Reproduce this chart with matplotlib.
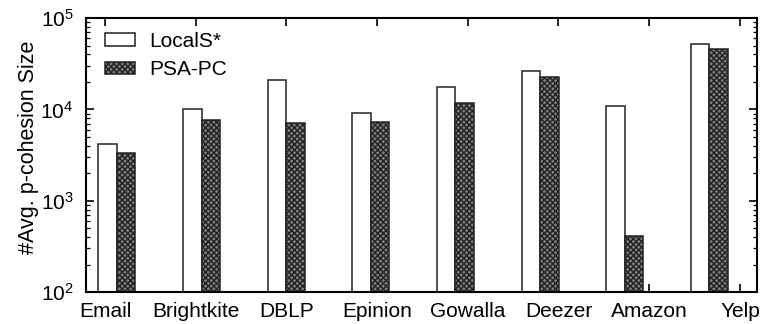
import numpy as np
import matplotlib
matplotlib.use("Agg")
import matplotlib.pyplot as plt
from matplotlib.ticker import LogLocator, NullFormatter

plt.rcParams['font.family'] = ['Liberation Sans', 'DejaVu Sans']
plt.rcParams['hatch.linewidth'] = 1.0

# data
datasets = ['Email', 'Brightkite', 'DBLP', 'Epinion', 'Gowalla', 'Deezer', 'Amazon', 'Yelp']
locals_star = [4230, 10190, 20800, 9200, 17700, 26200, 10790, 52200]
psa_pc = [3365, 7620, 7150, 7330, 11650, 22850, 409, 45600]

fig = plt.figure(figsize=(7.61, 3.24), dpi=100)
ax = fig.add_axes([0.113, 0.0988, 0.8817, 0.8452])

# category ticks and bar groups sit on slightly different grids in the original
tick_pos = np.arange(len(datasets))
group_pos = 0.132 + 0.933 * np.arange(len(datasets))
w = 0.204

ax.bar(group_pos - w / 2, locals_star, w, bottom=1e-3, color='white',
       edgecolor='#222222', linewidth=1.1, label='LocalS*', zorder=2)
ax.bar(group_pos + w / 2, psa_pc, w, bottom=1e-3, color='#808080',
       edgecolor='#222222', linewidth=1.1, hatch='xxxxxx', label='PSA-PC', zorder=2)

ax.set_yscale('log')
ax.set_ylim(1e2, 1e5)
ax.set_xlim(-0.209, 7.188)
ax.set_xticks(tick_pos)
ax.set_xticklabels(datasets)
ax.yaxis.set_major_locator(LogLocator(base=10, numticks=10))
ax.yaxis.set_minor_locator(LogLocator(base=10, subs=np.arange(2, 10), numticks=20))
ax.yaxis.set_minor_formatter(NullFormatter())

ax.tick_params(axis='both', which='major', direction='in', length=6, width=1.2,
               labelsize=15, top=True, right=True)
ax.tick_params(axis='y', which='minor', direction='in', length=3, width=0.9, right=True)
ax.tick_params(axis='x', which='minor', bottom=False, top=False)
ax.tick_params(axis='x', which='major', pad=7)
ax.tick_params(axis='y', which='major', pad=9)
ax.set_axisbelow(True)
for s in ax.spines.values():
    s.set_linewidth(1.5)
    s.set_zorder(3)

ax.set_ylabel('#Avg. p-cohesion Size', fontsize=15.5)
ax.yaxis.set_label_coords(-0.07, 0.53)

ax.legend(loc='upper left', bbox_to_anchor=(0.029, 0.95), frameon=False, fontsize=15,
          handlelength=1.4, handleheight=0.55, handletextpad=0.7, labelspacing=0.45,
          borderpad=0, borderaxespad=0)

fig.savefig('out.png', dpi=100)
